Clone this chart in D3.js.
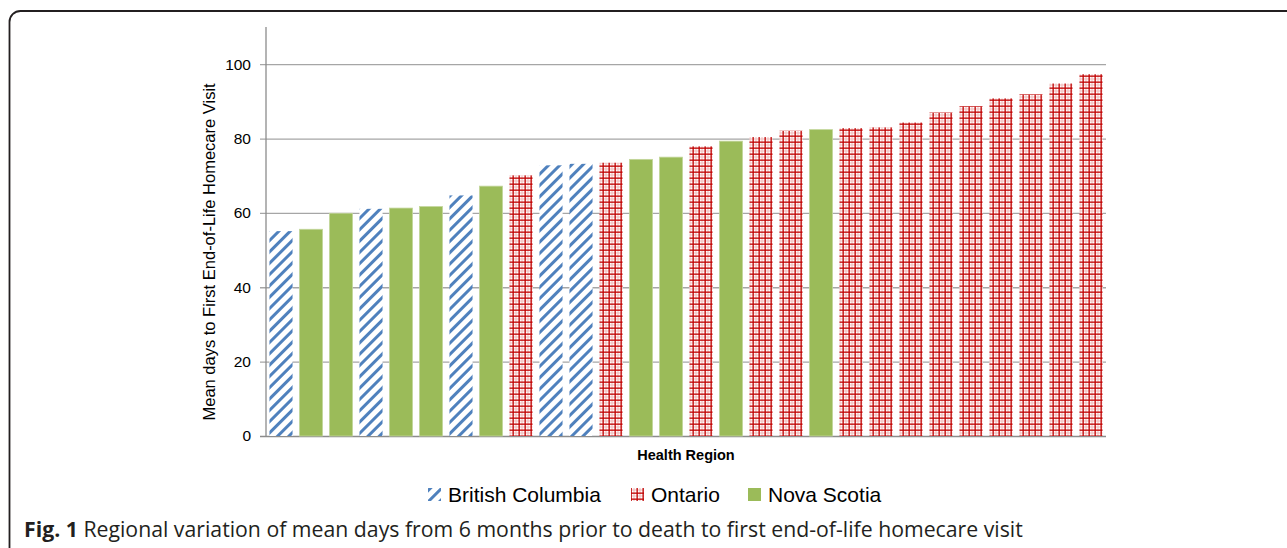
<!DOCTYPE html>
<html>
<head>
<meta charset="utf-8">
<script src="https://cdn.jsdelivr.net/npm/d3@7"></script>
<style>
  body { margin: 0; background: #fff; }
  svg { display: block; }
  .tick text { font-family: "Liberation Sans", Arial, sans-serif; font-size: 15.5px; fill: #000; }
</style>
</head>
<body>
<div id="chart"></div>
<script>
// Chart data (left to right)
var regions   = d3.range(1, 29).map(function(i){ return "Region " + i; });
var provinces = ["BC","NS","NS","BC","NS","NS","BC","NS","ON","BC",
                 "BC","ON","NS","NS","ON","NS","ON","ON","NS","ON",
                 "ON","ON","ON","ON","ON","ON","ON","ON"];
var meanDays  = [55.1, 55.6, 59.9, 61.1, 61.3, 61.7, 64.7, 67.2, 70.1, 72.8,
                 73.2, 73.5, 74.4, 75.0, 77.9, 79.3, 80.4, 82.1, 82.4, 82.8,
                 83.0, 84.3, 87.0, 88.7, 90.8, 91.9, 94.8, 97.3];
var yTicks    = [0, 20, 40, 60, 80, 100];
var legendKeys   = ["BC", "ON", "NS"];
var legendLabels = ["British Columbia", "Ontario", "Nova Scotia"];

var W = 1287, H = 548;
var margin = {top: 27, right: 181, bottom: 112, left: 266}; // plot box inside the figure
var width  = W - margin.left - margin.right;
var height = H - margin.top - margin.bottom;

var svg = d3.select("#chart").append("svg")
            .attr("width", W)
            .attr("height", H);

// Patterns for the provinces
var defs = svg.append("defs");

var bc = defs.append("pattern")
    .attr("id", "pat-BC")
    .attr("patternUnits", "userSpaceOnUse")
    .attr("width", 8).attr("height", 8)
    .attr("patternTransform", "rotate(45)");
bc.append("rect").attr("width", 8).attr("height", 8).attr("fill", "#fff");
bc.append("rect").attr("x", 0).attr("width", 3).attr("height", 8).attr("fill", "#4f81bd");

var on = defs.append("pattern")
    .attr("id", "pat-ON")
    .attr("patternUnits", "userSpaceOnUse")
    .attr("width", 6).attr("height", 6);
on.append("rect").attr("width", 6).attr("height", 6).attr("fill", "#fff");
on.append("rect").attr("x", 3.5).attr("width", 1).attr("height", 6).attr("fill", "#efb8b8");
on.append("rect").attr("y", 3.5).attr("width", 6).attr("height", 1).attr("fill", "#efb8b8");
on.append("rect").attr("x", 0.5).attr("width", 1.3).attr("height", 6).attr("fill", "#c00000");
on.append("rect").attr("y", 0.5).attr("width", 6).attr("height", 1.3).attr("fill", "#c00000");

var fills = {BC: "url(#pat-BC)", ON: "url(#pat-ON)", NS: "#9bbb59"};

// Figure frame (rounded box running off the page)
svg.append("rect")
    .attr("x", 9.5).attr("y", 11)
    .attr("width", W + 40).attr("height", H + 40)
    .attr("rx", 11).attr("ry", 11)
    .attr("fill", "none")
    .attr("stroke", "#231f20")
    .attr("stroke-width", 1.8);

var g = svg.append("g")
    .attr("transform", "translate(" + margin.left + "," + margin.top + ")");

// Scales
var xScale = d3.scaleBand()
    .domain(regions)
    .range([0, width])
    .paddingInner(0.23)
    .paddingOuter(0.115);

var yScale = d3.scaleLinear()
    .domain([0, 110])
    .range([height, 0]);

// Gridlines + y axis
var yAxis = d3.axisLeft(yScale).tickValues(yTicks).tickSize(-width).tickPadding(15);
var yAxisG = g.append("g").call(yAxis);
yAxisG.select(".domain").remove();
yAxisG.selectAll(".tick line")
    .attr("x1", -6)
    .attr("x2", width)
    .attr("stroke", "#a6a6a6")
    .attr("stroke-width", 1.3);
yAxisG.selectAll(".tick").filter(function(d){ return d === 0; }).select("line")
    .attr("stroke", "#8c8c8c");

// y axis line
g.append("line")
    .attr("x1", 0).attr("x2", 0)
    .attr("y1", 0).attr("y2", height)
    .attr("stroke", "#8c8c8c")
    .attr("stroke-width", 1.3);

// Bars
g.selectAll(".bar")
    .data(meanDays)
  .enter().append("rect")
    .attr("class", "bar")
    .attr("x", function(d, i){ return xScale(regions[i]); })
    .attr("y", function(d){ return yScale(d); })
    .attr("width", xScale.bandwidth())
    .attr("height", function(d){ return height - yScale(d); })
    .attr("fill", function(d, i){ return fills[provinces[i]]; })
    .attr("stroke", function(d, i){ return provinces[i] === "NS" ? "#c3d69b" : "none"; })
    .attr("stroke-width", 0.8);

// Axis titles
g.append("text")
    .attr("transform", "rotate(-90)")
    .attr("x", -(height * 0.55))
    .attr("y", -51)
    .attr("text-anchor", "middle")
    .style("font-family", "'Liberation Sans', Arial, sans-serif")
    .style("font-size", "16.5px")
    .text("Mean days to First End-of-Life Homecare Visit");

g.append("text")
    .attr("x", width / 2)
    .attr("y", height + 24)
    .attr("text-anchor", "middle")
    .style("font-family", "'Liberation Sans', Arial, sans-serif")
    .style("font-size", "14.5px")
    .style("font-weight", "bold")
    .text("Health Region");

// Legend
var legendX = [428, 631, 748];
var legend = svg.append("g").attr("class", "legend");
legendKeys.forEach(function(k, i){
    legend.append("rect")
        .attr("x", legendX[i]).attr("y", 488)
        .attr("width", 13).attr("height", 13)
        .attr("fill", fills[k]);
    legend.append("text")
        .attr("x", legendX[i] + 20)
        .attr("y", 502)
        .style("font-family", "'Liberation Sans', Arial, sans-serif")
        .style("font-size", "21px")
        .text(legendLabels[i]);
});

// Caption
var cap = svg.append("text")
    .attr("x", 24)
    .attr("y", 537)
    .style("font-family", "'Open Sans', sans-serif")
    .style("font-size", "21.25px")
    .style("fill", "#231f20");
cap.append("tspan").style("font-weight", "bold").text("Fig. 1");
cap.append("tspan").text(" Regional variation of mean days from 6 months prior to death to first end-of-life homecare visit");
</script>
</body>
</html>
